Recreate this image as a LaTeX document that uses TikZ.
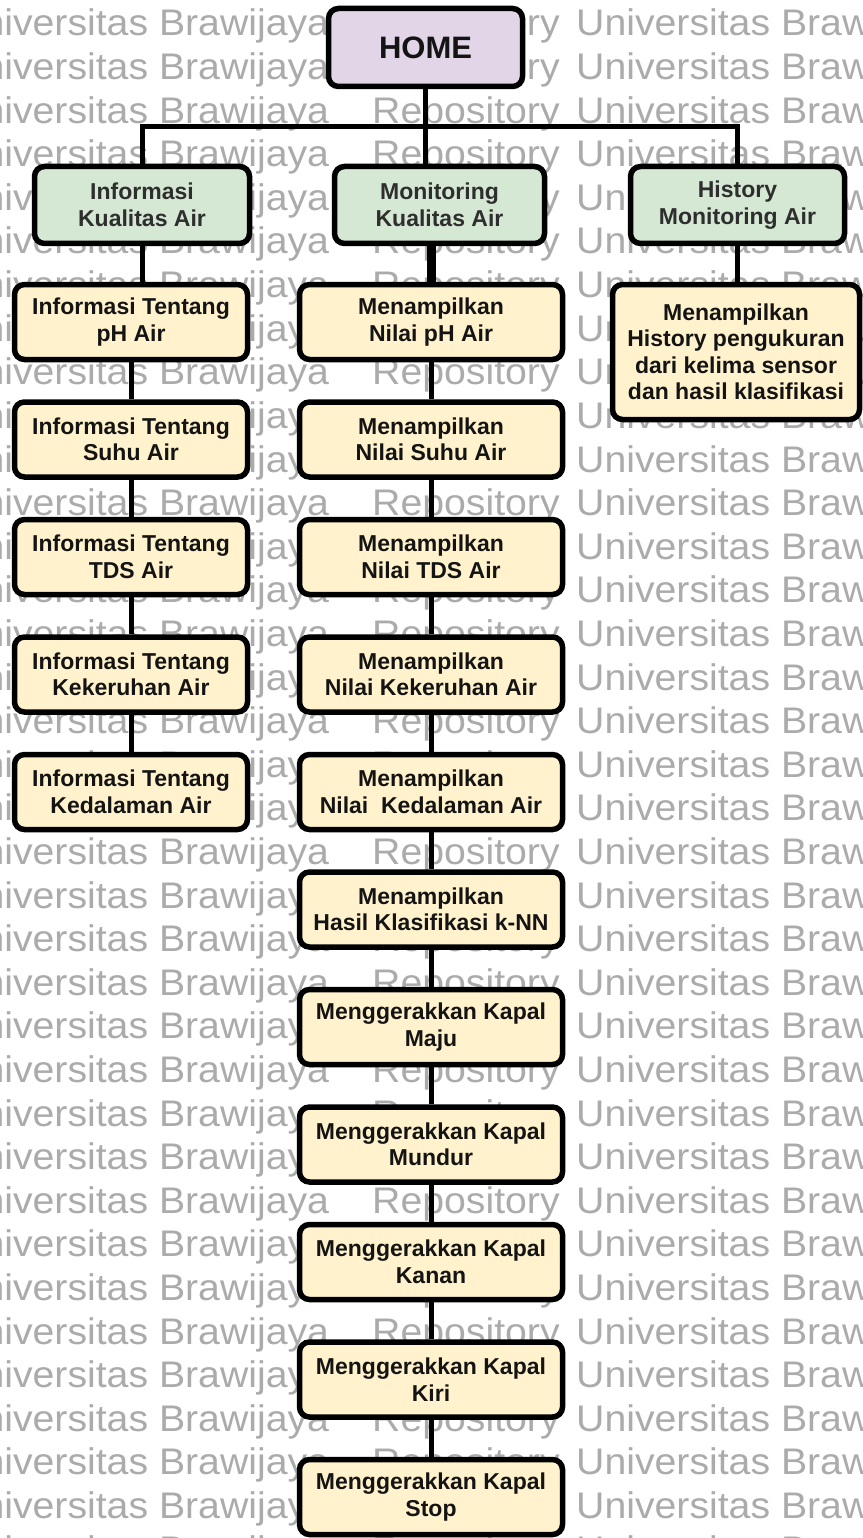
\documentclass[tikz,border=0pt]{standalone}
\usepackage{fontspec}
\setmainfont{Liberation Sans}
\newfontfamily\wmfamily[FakeStretch=1.06]{Liberation Sans}

\definecolor{homefill}{HTML}{E1D5E7}
\definecolor{catfill}{HTML}{D5E8D4}
\definecolor{leaffill}{HTML}{FFF2CC}
\definecolor{wmgray}{HTML}{ABABAB}

\newcommand\lblfont{\fontsize{23}{26.5}\selectfont\bfseries}
\newcommand\homefont{\fontsize{31}{34}\selectfont\bfseries}
\newcommand\wmfont{\wmfamily\fontsize{37}{40}\selectfont}

\begin{document}
\begin{tikzpicture}[x=1pt,y=-1pt,
  box/.style={rectangle, rounded corners=10pt, draw=black, line width=5.5pt,
    align=center, inner sep=0pt, font=\lblfont, text=black!92},
  homebox/.style={box, fill=homefill, font=\homefont,
    minimum width=194pt, minimum height=78pt},
  catbox/.style={box, fill=catfill, text=black!82, minimum height=77pt},
  leafbox/.style={box, fill=leaffill, minimum height=75pt},
  leftbox/.style={leafbox, minimum width=233pt},
  midbox/.style={leafbox, minimum width=263pt},
  conn/.style={draw=black, line width=5pt},
  wm/.style={font=\wmfont, text=wmgray, inner sep=0pt, anchor=base west}]

\useasboundingbox (0,0) rectangle (862,1538);
\fill[white] (0,0) rectangle (862,1538);

% repeated background lettering
\begin{scope}
  \clip (0,0) rectangle (862,1538);
  \foreach \i in {0,...,36} {
    \pgfmathsetmacro{\yy}{-7.6+43.6*\i}
    \node[wm] (wmA\i) at (-46,\yy) {Universitas Brawijaya};
    \node[wm] (wmB\i) at (372,\yy) {Repository};
    \node[wm] (wmC\i) at (576,\yy) {Universitas Brawijaya};
  }
\end{scope}

% top level
\node[homebox] (home) at (425.5,47.5) {HOME};

% categories
\node[catbox, minimum width=215pt] (info) at (142,205) {Informasi\\Kualitas Air};
\node[catbox, minimum width=210pt] (mon) at (439.5,205) {Monitoring\\Kualitas Air};
\node[catbox, minimum width=214pt] (hist) at (737.5,205) {History\\Monitoring Air};

% information column
\node[leftbox] (l1) at (131,322)   {Informasi Tentang\\pH Air};
\node[leftbox] (l2) at (131,439.5) {Informasi Tentang\\Suhu Air};
\node[leftbox] (l3) at (131,557)   {Informasi Tentang\\TDS Air};
\node[leftbox] (l4) at (131,674.5) {Informasi Tentang\\Kekeruhan Air};
\node[leftbox] (l5) at (131,792)   {Informasi Tentang\\Kedalaman Air};

% monitoring column
\node[midbox] (m1)  at (431,322)    {Menampilkan\\Nilai pH Air};
\node[midbox] (m2)  at (431,439.5)  {Menampilkan\\Nilai Suhu Air};
\node[midbox] (m3)  at (431,557)    {Menampilkan\\Nilai TDS Air};
\node[midbox] (m4)  at (431,674.5)  {Menampilkan\\Nilai Kekeruhan Air};
\node[midbox] (m5)  at (431,792)    {Menampilkan\\Nilai~ Kedalaman Air};
\node[midbox] (m6)  at (431,909.5)  {Menampilkan\\Hasil Klasifikasi k-NN};
\node[midbox] (m7)  at (431,1027)   {Menggerakkan Kapal\\Maju};
\node[midbox] (m8)  at (431,1144.5) {Menggerakkan Kapal\\Mundur};
\node[midbox] (m9)  at (431,1262)   {Menggerakkan Kapal\\Kanan};
\node[midbox] (m10) at (431,1379.5) {Menggerakkan Kapal\\Kiri};
\node[midbox] (m11) at (431,1497)   {Menggerakkan Kapal\\Stop};

% history column
\node[leafbox, minimum width=247pt, minimum height=135pt] (r1) at (736,352)
  {Menampilkan\\History pengukuran\\dari kelima sensor\\dan hasil klasifikasi};

% connectors
\coordinate (split) at (425.5,127);
\draw[conn] (home.south) -- (split);
\draw[conn] (info.north) |- (split) -| (hist.north);
\draw[conn] (split) -- (split |- mon.north);

\draw[conn] (info.south) -- (info.south |- l1.north);
\foreach \a/\b in {l1/l2, l2/l3, l3/l4, l4/l5}
  \draw[conn] (\a.south) -- (\b.north);

\draw[conn, line width=9pt] (mon.south -| m1.north) -- (m1.north);
\foreach \a/\b in {m1/m2, m2/m3, m3/m4, m4/m5, m5/m6, m6/m7, m7/m8, m8/m9, m9/m10, m10/m11}
  \draw[conn] (\a.south) -- (\b.north);

\draw[conn] (hist.south) -- (hist.south |- r1.north);
\end{tikzpicture}
\end{document}
